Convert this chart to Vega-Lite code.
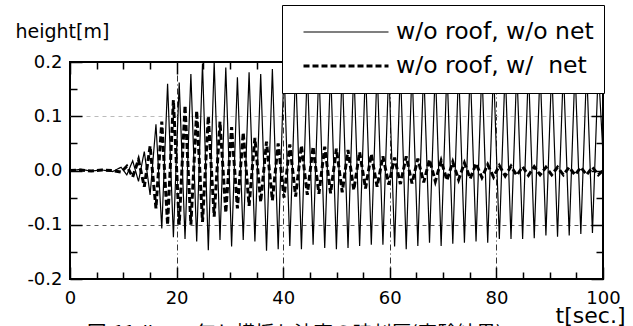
{
  "$schema": "https://vega.github.io/schema/vega-lite/v6.json",
  "width": 533,
  "height": 217,
  "autosize": "none",
  "padding": {"left": 70, "top": 62, "right": 30, "bottom": 47},
  "background": "white",
  "config": {
    "view": {"stroke": "black", "strokeWidth": 2},
    "font": "DejaVu Sans",
    "axis": {
      "labelFont": "DejaVu Sans",
      "titleFont": "DejaVu Sans",
      "labelFontSize": 18,
      "titleFontSize": 19,
      "titleFontWeight": "normal",
      "labelColor": "black",
      "titleColor": "black",
      "tickColor": "black",
      "tickWidth": 1.5,
      "domain": false,
      "labelFlush": false,
      "labelOverlap": false
    }
  },
  "title": {
    "text": "図-11 ルーフ無し横揺れ波高の時刻歴(実験結果)",
    "orient": "bottom",
    "anchor": "start",
    "font": "Noto Sans CJK JP",
    "fontSize": 19.5,
    "fontWeight": "normal",
    "color": "black",
    "baseline": "top",
    "offset": 0,
    "dx": 72,
    "dy": -1
  },
  "data": {
    "values": [
      {"t": 0, "a": 0, "b": 0},
      {"t": 2, "a": 0.002, "b": 0.001},
      {"t": 4, "a": -0.001, "b": -0.001},
      {"t": 6, "a": 0.001, "b": 0.001},
      {"t": 8, "a": -0.002, "b": 0},
      {"t": 9.57, "a": 0.006, "b": -0.003},
      {"t": 10.66, "a": -0.008, "b": 0.008},
      {"t": 11.76, "a": 0.018, "b": -0.012},
      {"t": 12.85, "a": -0.02, "b": 0.02},
      {"t": 13.94, "a": 0.035, "b": -0.03},
      {"t": 15.03, "a": -0.045, "b": 0.045},
      {"t": 16.13, "a": 0.085, "b": -0.07},
      {"t": 17.22, "a": -0.107, "b": 0.09},
      {"t": 18.31, "a": 0.16, "b": -0.1},
      {"t": 19.4, "a": -0.123, "b": 0.13},
      {"t": 20.49, "a": 0.162, "b": -0.1},
      {"t": 21.58, "a": -0.126, "b": 0.12},
      {"t": 22.68, "a": 0.178, "b": -0.1},
      {"t": 23.77, "a": -0.131, "b": 0.11},
      {"t": 24.86, "a": 0.197, "b": -0.095},
      {"t": 25.95, "a": -0.147, "b": 0.1},
      {"t": 27.05, "a": 0.2, "b": -0.085},
      {"t": 28.14, "a": -0.128, "b": 0.09},
      {"t": 29.23, "a": 0.19, "b": -0.078},
      {"t": 30.32, "a": -0.14, "b": 0.08},
      {"t": 31.41, "a": 0.172, "b": -0.07},
      {"t": 32.5, "a": -0.128, "b": 0.07},
      {"t": 33.6, "a": 0.181, "b": -0.065},
      {"t": 34.69, "a": -0.131, "b": 0.06},
      {"t": 35.78, "a": 0.178, "b": -0.058},
      {"t": 36.87, "a": -0.148, "b": 0.053},
      {"t": 37.97, "a": 0.187, "b": -0.055},
      {"t": 39.06, "a": -0.145, "b": 0.05},
      {"t": 40.15, "a": 0.19, "b": -0.05},
      {"t": 41.24, "a": -0.139, "b": 0.048},
      {"t": 42.33, "a": 0.19, "b": -0.048},
      {"t": 43.42, "a": -0.145, "b": 0.046},
      {"t": 44.52, "a": 0.19, "b": -0.045},
      {"t": 45.61, "a": -0.137, "b": 0.044},
      {"t": 46.7, "a": 0.19, "b": -0.043},
      {"t": 47.79, "a": -0.143, "b": 0.044},
      {"t": 48.89, "a": 0.19, "b": -0.042},
      {"t": 49.98, "a": -0.145, "b": 0.04},
      {"t": 51.07, "a": 0.19, "b": -0.04},
      {"t": 52.16, "a": -0.143, "b": 0.038},
      {"t": 53.25, "a": 0.19, "b": -0.036},
      {"t": 54.34, "a": -0.139, "b": 0.034},
      {"t": 55.44, "a": 0.19, "b": -0.033},
      {"t": 56.53, "a": -0.137, "b": 0.03},
      {"t": 57.62, "a": 0.19, "b": -0.03},
      {"t": 58.71, "a": -0.137, "b": 0.026},
      {"t": 59.81, "a": 0.19, "b": -0.026},
      {"t": 60.9, "a": -0.14, "b": 0.024},
      {"t": 61.99, "a": 0.19, "b": -0.025},
      {"t": 63.08, "a": -0.145, "b": 0.026},
      {"t": 64.17, "a": 0.19, "b": -0.024},
      {"t": 65.26, "a": -0.139, "b": 0.022},
      {"t": 66.36, "a": 0.19, "b": -0.022},
      {"t": 67.45, "a": -0.133, "b": 0.02},
      {"t": 68.54, "a": 0.19, "b": -0.02},
      {"t": 69.63, "a": -0.139, "b": 0.018},
      {"t": 70.73, "a": 0.19, "b": -0.018},
      {"t": 71.82, "a": -0.135, "b": 0.016},
      {"t": 72.91, "a": 0.19, "b": -0.017},
      {"t": 74.0, "a": -0.133, "b": 0.014},
      {"t": 75.09, "a": 0.19, "b": -0.015},
      {"t": 76.18, "a": -0.131, "b": 0.013},
      {"t": 77.28, "a": 0.19, "b": -0.013},
      {"t": 78.37, "a": -0.133, "b": 0.011},
      {"t": 79.46, "a": 0.19, "b": -0.012},
      {"t": 80.55, "a": -0.126, "b": 0.009},
      {"t": 81.65, "a": 0.19, "b": -0.01},
      {"t": 82.74, "a": -0.126, "b": 0.008},
      {"t": 83.83, "a": 0.19, "b": -0.009},
      {"t": 84.92, "a": -0.126, "b": 0.007},
      {"t": 86.01, "a": 0.19, "b": -0.009},
      {"t": 87.1, "a": -0.125, "b": 0.007},
      {"t": 88.2, "a": 0.19, "b": -0.008},
      {"t": 89.29, "a": -0.12, "b": 0.006},
      {"t": 90.38, "a": 0.19, "b": -0.008},
      {"t": 91.47, "a": -0.122, "b": 0.006},
      {"t": 92.57, "a": 0.19, "b": -0.008},
      {"t": 93.66, "a": -0.12, "b": 0.006},
      {"t": 94.75, "a": 0.19, "b": -0.008},
      {"t": 95.84, "a": -0.117, "b": 0.006},
      {"t": 96.93, "a": 0.19, "b": -0.008},
      {"t": 98.02, "a": -0.115, "b": 0.006},
      {"t": 99.12, "a": 0.19, "b": -0.008},
      {"t": 100, "a": 0.03, "b": 0}
    ]
  },
  "transform": [{"fold": ["a", "b"], "as": ["s", "h"]}],
  "layer": [
    {
      "transform": [{"filter": "datum.s === 'a'"}],
      "mark": {"type": "line", "color": "black", "clip": true},
      "encoding": {
        "x": {
          "field": "t", "type": "quantitative",
          "scale": {"domain": [0, 100], "nice": false, "zero": false},
          "axis": {
            "orient": "bottom",
            "values": [0,5,10,15,20,25,30,35,40,45,50,55,60,65,70,75,80,85,90,95,100],
            "format": "d",
            "labelExpr": "datum.value % 20 === 0 ? datum.label : ''",
            "labelPadding": 22,
            "tickSize": {"condition": {"test": "datum.value % 20 === 0", "value": -12}, "value": -7},
            "grid": true,
            "gridOpacity": {"condition": {"test": "datum.value % 20 === 0 && datum.value > 0 && datum.value < 100", "value": 1}, "value": 0},
            "gridDash": [6, 3, 1, 3],
            "gridColor": "#333333",
            "gridWidth": 1,
            "title": "t[sec.]",
            "titleFontSize": 22,
            "titleAlign": "right",
            "titleBaseline": "alphabetic",
            "titleAnchor": "end",
            "titleX": 555,
            "titleY": 43
          }
        },
        "y": {
          "field": "h", "type": "quantitative",
          "scale": {"domain": [-0.2, 0.2], "nice": false, "zero": false},
          "axis": {
            "orient": "left",
            "values": [-0.2,-0.15,-0.1,-0.05,0,0.05,0.1,0.15,0.2],
            "labelExpr": "abs(round(datum.value*100)) % 10 === 0 ? ((datum.value < -0.001 ? '-' : '') + format(abs(datum.value), '.1f')) : ''",
            "labelPadding": 20,
            "tickSize": {"condition": {"test": "abs(round(datum.value*100)) % 10 === 0", "value": -12}, "value": -7},
            "grid": true,
            "gridOpacity": {"condition": {"test": "abs(round(datum.value*100)) === 10", "value": 1}, "value": 0},
            "gridDash": [4, 4],
            "gridColor": {"condition": {"test": "datum.value > 0", "value": "#bbbbbb"}, "value": "#555555"},
            "gridWidth": 1,
            "title": "height[m]",
            "titleAngle": 0,
            "titleAlign": "left",
            "titleBaseline": "alphabetic",
            "titleX": -55,
            "titleY": -25
          }
        },
        "strokeDash": {
          "field": "s", "type": "nominal",
          "scale": {"domain": ["a", "b"], "range": [[1, 0], [6, 3]]},
          "legend": {
            "title": null,
            "orient": "none",
            "legendX": 212,
            "legendY": -57,
            "fillColor": "white",
            "strokeColor": "black",
            "padding": 10,
            "symbolType": "stroke",
            "symbolSize": 7225,
            "symbolStrokeColor": "black",
            "symbolOffset": 10,
            "clipHeight": 34,
            "rowPadding": 0,
            "labelOffset": 6,
            "labelFont": "DejaVu Sans",
            "labelFontSize": 23.5,
            "labelColor": "black",
            "labelLimit": 400,
            "labelExpr": "datum.value === 'a' ? 'w/o roof, w/o net' : 'w/o roof, w/\u00a0 net'",
            "zindex": 5
          }
        },
        "strokeWidth": {
          "field": "s", "type": "nominal",
          "scale": {"domain": ["a", "b"], "range": [1.2, 3]},
          "legend": {
            "title": null,
            "orient": "none",
            "legendX": 212,
            "legendY": -57,
            "fillColor": "white",
            "strokeColor": "black",
            "padding": 10,
            "symbolType": "stroke",
            "symbolSize": 7225,
            "symbolStrokeColor": "black",
            "symbolOffset": 10,
            "clipHeight": 34,
            "rowPadding": 0,
            "labelOffset": 6,
            "labelFont": "DejaVu Sans",
            "labelFontSize": 23.5,
            "labelColor": "black",
            "labelLimit": 400,
            "labelExpr": "datum.value === 'a' ? 'w/o roof, w/o net' : 'w/o roof, w/\u00a0 net'",
            "zindex": 5
          }
        }
      }
    },
    {
      "transform": [{"filter": "datum.s === 'b'"}],
      "mark": {"type": "line", "color": "black", "clip": true},
      "encoding": {
        "x": {
          "field": "t", "type": "quantitative",
          "scale": {"domain": [0, 100], "nice": false, "zero": false},
          "axis": {
            "orient": "top",
            "values": [0,5,10,15,20,25,30,35,40,45,50,55,60,65,70,75,80,85,90,95,100],
            "labels": false,
            "title": null,
            "grid": false,
            "tickSize": {"condition": {"test": "datum.value % 20 === 0", "value": -12}, "value": -7}
          }
        },
        "y": {
          "field": "h", "type": "quantitative",
          "scale": {"domain": [-0.2, 0.2], "nice": false, "zero": false},
          "axis": {
            "orient": "right",
            "values": [-0.2,-0.15,-0.1,-0.05,0,0.05,0.1,0.15,0.2],
            "labels": false,
            "title": null,
            "grid": false,
            "tickSize": {"condition": {"test": "abs(round(datum.value*100)) % 10 === 0", "value": -12}, "value": -7}
          }
        },
        "strokeDash": {
          "field": "s", "type": "nominal",
          "scale": {"domain": ["a", "b"], "range": [[1, 0], [6, 3]]}
        },
        "strokeWidth": {
          "field": "s", "type": "nominal",
          "scale": {"domain": ["a", "b"], "range": [1.2, 3]}
        }
      }
    }
  ],
  "resolve": {"axis": {"x": "independent", "y": "independent"}}
}
